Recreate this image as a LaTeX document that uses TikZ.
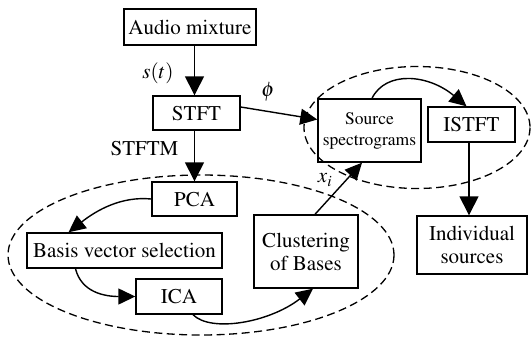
\documentclass[tikz,border=0pt]{standalone}
\usepackage[T1]{fontenc}
\usepackage{mathptmx}
\usetikzlibrary{arrows.meta}
\begin{document}
\begin{tikzpicture}[x=1pt,y=-1pt,
  box/.style={draw, line width=1.4pt, inner sep=0pt, align=center,
    font=\fontsize{21}{23}\selectfont},
  lbl/.style={inner sep=0pt, font=\fontsize{21}{23}\selectfont},
  flow/.style={line width=1.4pt, -{Triangle[length=19pt,width=19pt]}},
  curvearrow/.style={line width=1.4pt, -{Triangle[length=17pt,width=16pt]}},
  group/.style={draw, line width=1.3pt, dash pattern=on 8pt off 4.5pt}]
\useasboundingbox (0,0) rectangle (531,338);

% dashed groupings
\draw[group] (201,255) ellipse [x radius=193, y radius=80];
\draw[group] (417,127.5) ellipse [x radius=113, y radius=61];

% processing blocks
\node[box, minimum width=132pt, minimum height=36pt] (audio) at (190,27) {Audio mixture};
\node[box, minimum width=87pt, minimum height=34pt] (stft) at (196.5,113) {STFT};
\node[box, minimum width=85pt, minimum height=34pt] (pca) at (194.5,199) {PCA};
\node[box, minimum width=195pt, minimum height=35pt] (basis) at (124.5,250.5) {Basis vector selection};
\node[box, minimum width=86pt, minimum height=35pt] (ica) at (179,296.5) {ICA};
\node[box, minimum width=104pt, minimum height=73pt] (clust) at (306,251.5) {Clustering\\of Bases};
\node[box, minimum width=103pt, minimum height=63pt,
  font=\fontsize{17.5}{21}\selectfont] (spec) at (369.5,130.5) {Source\\spectrograms};
\node[box, minimum width=87pt, minimum height=35pt] (istft) at (471.5,124.5) {ISTFT};
\node[box, minimum width=110pt, minimum height=58pt] (indiv) at (472,245) {Individual\\sources};

% edge labels
\node[lbl] (st) at (158,73) {$s(t)$};
\node[lbl] (stftm) at (144.5,148) {STFTM};
\node[lbl] (ph) at (268,92) {$\phi$};
\node[lbl] (xi) at (325,180) {$x_i$};

% connectors
\draw[flow] (audio.south -| pca.north) -- (stft.north -| pca.north);
\draw[flow] (stft.south -| pca.north) -- (pca.north);
\draw[flow] (istft.south -| 469,0) -- (indiv.north -| 469,0);
\draw[curvearrow] ([yshift=6pt]stft.east) -- ([yshift=11pt]spec.west);
\draw[curvearrow] ([xshift=2.5pt]spec.north) .. controls +(14,-28) and +(-38,-32) .. ([xshift=-5pt]istft.north);
\draw[curvearrow] (pca.west) .. controls +(-30,-3) and +(28,-22) .. ([xshift=-56pt]basis.north);
\draw[curvearrow] ([xshift=-49pt]basis.south) .. controls +(6,24) and +(-30,0) .. (ica.west);
\draw[curvearrow] ([xshift=14pt]ica.south) .. controls +(18,18) and +(-44,34) .. ([xshift=7pt]clust.south);
\draw[curvearrow] ([xshift=9pt]clust.north) -- ([xshift=-7.5pt]spec.south);
\end{tikzpicture}
\end{document}
